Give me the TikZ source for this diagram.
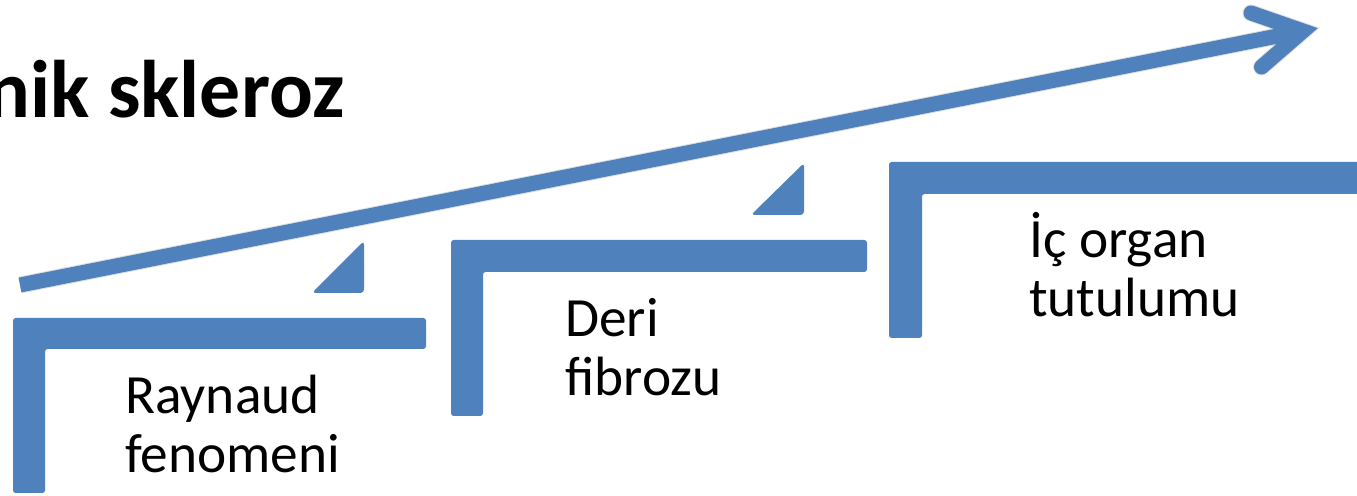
\documentclass[tikz,border=0pt]{standalone}
\usepackage{fontspec}
\setmainfont{Carlito}
\definecolor{stepblue}{RGB}{79,129,189}
\begin{document}
\begin{tikzpicture}[x=0.02cm, y=-0.02cm,
  bar/.style={fill=stepblue, rounded corners=1.5},
  wedge/.style={fill=stepblue, rounded corners=2},
  steplabel/.style={anchor=base west, align=left, inner sep=0pt,
    font=\fontsize{31.5}{34}\selectfont},
  shaft/.style={draw=stepblue, line width=0.3cm},
  shaftshadow/.style={draw=black, opacity=0.12, line width=0.34cm}
]
\useasboundingbox (0,0) rectangle (1357,496);
\clip (0,0) rectangle (1357,496);

% title
\node[anchor=base west, inner sep=0pt, font=\bfseries\fontsize{46.5}{50}\selectfont]
  (title) at (-14,118) {nik skleroz};

% rising arrow with a soft drop shadow
\coordinate (tail) at (20,285);
\coordinate (tip) at (1303,31);
\coordinate (barbA) at (1251,13);
\coordinate (barbB) at (1261.5,67);
\begin{scope}[shift={(2,4)}]
  \draw[shaftshadow, line cap=butt] (tail) -- (tip);
  \draw[shaftshadow, line cap=round, line join=miter] (barbA) -- (tip) -- (barbB);
\end{scope}
\draw[shaft, line cap=butt] (tail) -- (tip);
\draw[shaft, line cap=round, line join=miter] (barbA) -- (tip) -- (barbB);

% step 1 (the anchor sits on the baseline of the last line)
\fill[bar] (13,318) -- (426,318) -- (426,349) -- (45,349) -- (45,493) -- (13,493) -- cycle;
\fill[wedge] (364,241) -- (364,293) -- (312,293) -- cycle;
\node[steplabel] (ray) at (125,473) {Raynaud\\fenomeni};

% step 2
\fill[bar] (451,240) -- (867,240) -- (867,272) -- (483,272) -- (483,416) -- (451,416) -- cycle;
\fill[wedge] (804,163) -- (804,215) -- (751,215) -- cycle;
\node[steplabel] (deri) at (565,396) {Deri\\fibrozu};

% step 3
\fill[bar] (889,162) -- (1370,162) -- (1370,194) -- (922,194) -- (922,338) -- (889,338) -- cycle;
\node[steplabel] (ic) at (1029,317) {İç organ\\tutulumu};
\end{tikzpicture}
\end{document}
